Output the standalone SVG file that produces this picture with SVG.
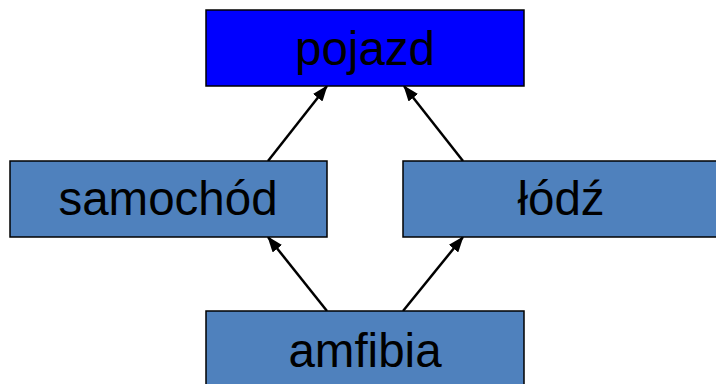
<svg xmlns="http://www.w3.org/2000/svg" width="716" height="384" viewBox="0 0 716 384">
<defs>
<marker id="ah" markerWidth="16" markerHeight="12" refX="15" refY="6" orient="auto" markerUnits="userSpaceOnUse">
<path d="M0,0 L16,6 L0,12 Z" fill="#000"/>
</marker>
<style>
.box{stroke:#000;stroke-width:1.5}
.cls{fill:#4F81BD}
.lbl{font-family:"Liberation Sans",Arial,sans-serif;font-size:47.5px;fill:#000;text-anchor:middle}
.edge{stroke:#000;stroke-width:2.5;fill:none;marker-end:url(#ah)}
</style>
</defs>
<rect width="716" height="384" fill="#fff"/>
<g id="connectors">
<line class="edge" x1="268" y1="161" x2="327" y2="86"/>
<line class="edge" x1="463" y1="161" x2="404" y2="86"/>
<line class="edge" x1="327" y1="311" x2="268" y2="237"/>
<line class="edge" x1="403" y1="311" x2="463" y2="237"/>
</g>
<g id="pojazd">
<rect class="box" x="206" y="10" width="318" height="76" fill="#0000FF"/>
<text class="lbl" x="365" y="65">pojazd</text>
</g>
<g id="samochod">
<rect class="box cls" x="10" y="161" width="317" height="76"/>
<text class="lbl" x="168" y="215">samochód</text>
</g>
<g id="lodz">
<rect class="box cls" x="403" y="161" width="317" height="76"/>
<text class="lbl" x="561" y="215">łódź</text>
</g>
<g id="amfibia">
<rect class="box cls" x="206" y="311" width="318" height="76"/>
<text class="lbl" x="365" y="367">amfibia</text>
</g>
</svg>
